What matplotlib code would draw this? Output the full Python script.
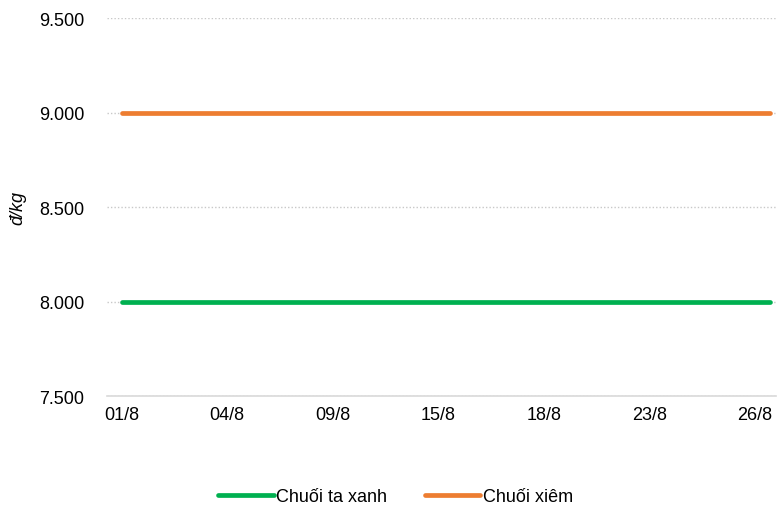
import matplotlib.pyplot as plt

plt.rcParams['font.family'] = ['Liberation Sans', 'DejaVu Sans']

# daily points, labelled every 7th one
n_points = 44
tick_idx = [0, 7, 14, 21, 28, 35, 42]
tick_labels = ["01/8", "04/8", "09/8", "15/8", "18/8", "23/8", "26/8"]
chuoi_ta_xanh = [8000] * n_points
chuoi_xiem = [9000] * n_points

x = list(range(n_points))

fig = plt.figure(figsize=(7.79, 5.06), dpi=100)
ax = fig.add_axes([0.137, 0.215, 0.859, 0.747])

ax.plot(x, chuoi_ta_xanh, color="#00B050", lw=3.4, solid_capstyle="round", label="Chuối ta xanh")
ax.plot(x, chuoi_xiem, color="#ED7D31", lw=3.4, solid_capstyle="round", label="Chuối xiêm")

ax.set_xlim(-1.0, 43.4)
ax.set_ylim(7500, 9500)
ax.set_yticks([7500, 8000, 8500, 9000, 9500])
ax.set_yticklabels(["7.500", "8.000", "8.500", "9.000", "9.500"])
ax.set_xticks(tick_idx)
ax.set_xticklabels(tick_labels)

ax.grid(axis="y", linestyle=(0, (1, 1.5)), color="#c8c8c8", lw=1)
ax.set_axisbelow(True)
for s in ["top", "right", "left"]:
    ax.spines[s].set_visible(False)
ax.spines["bottom"].set_color("#d9d9d9")
ax.spines["bottom"].set_linewidth(1.2)
ax.tick_params(length=0, labelsize=13, colors="#000000")
ax.tick_params(axis="y", pad=16)
ax.tick_params(axis="x", pad=7)

ax.set_ylabel("đ/kg", fontstyle="italic", fontsize=13)
ax.yaxis.set_label_coords(-0.12, 0.5)

fig.legend(loc="lower center", ncol=2, frameon=False, fontsize=13,
           bbox_to_anchor=(0.508, -0.033), handlelength=3.05, handletextpad=0.15,
           columnspacing=2.1)

fig.savefig("out.png", dpi=100)
